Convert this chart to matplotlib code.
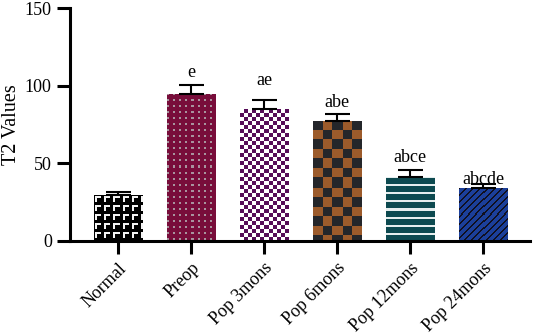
import numpy as np
import matplotlib
matplotlib.use("Agg")
import matplotlib.pyplot as plt

categories = ["Normal", "Preop", "Pop 3mons", "Pop 6mons", "Pop 12mons", "Pop 24mons"]
means = [29.6, 94.7, 84.8, 77.5, 41.4, 34.3]
errors = [2.1, 5.7, 5.8, 4.1, 4.3, 2.4]
letters = ["", "e", "ae", "abe", "abce", "abcde"]
letter_y = [0, 105.6, 100.4, 86.3, 50.9, 36.7]

plt.rcParams['font.family'] = ['Liberation Serif', 'DejaVu Serif']

W, H, DPI = 533, 336, 100
fig = plt.figure(figsize=(W / DPI, H / DPI), dpi=DPI)
ax = fig.add_axes([0.131, 0.283, 0.863, 0.693])

x = np.arange(len(categories))
bw = 0.66
bars = ax.bar(x, means, width=bw, color="black", zorder=2, linewidth=0)
ax.errorbar(x, means, yerr=[np.zeros(len(means)), errors], fmt="none",
            ecolor="black", elinewidth=1.5, capsize=9, capthick=1.5, zorder=3)

ax.set_xlim(-0.66, 5.64)
ax.set_ylim(0, 150)
ax.set_yticks([0, 50, 100, 150])
ax.set_xticks(x)
ax.set_xticklabels(categories, rotation=45, ha="right", rotation_mode="anchor",
                   fontsize=13)
ax.set_ylabel("T2 Values", fontsize=14.5, labelpad=3)

for s in ["top", "right"]:
    ax.spines[s].set_visible(False)
for s in ["left", "bottom"]:
    ax.spines[s].set_linewidth(2.2)
ax.tick_params(axis="both", width=2.2, length=9.5, colors="black")
ax.tick_params(axis="y", labelsize=13)
ax.tick_params(axis="x", pad=4)

for xi, lab, ly in zip(x, letters, letter_y):
    if lab:
        ax.text(xi, ly, lab, ha="center", va="baseline", fontsize=13, zorder=4)

def hexrgb(h):
    h = h.lstrip("#")
    return np.array([int(h[i:i + 2], 16) / 255 for i in (0, 2, 4)])

def pattern(idx, hpx, wpx):
    ii, jj = np.mgrid[0:hpx, 0:wpx]
    img = np.zeros((hpx, wpx, 3))
    if idx == 0:
        bg, fg = hexrgb("#000000"), hexrgb("#f4f4f4")
        ci, cj = ii % 9, jj % 9
        m = ((ci == 1) & (cj >= 1) & (cj <= 6)) | ((cj == 1) & (ci >= 1) & (ci <= 6))
        m |= ((ci == 2) & (cj >= 1) & (cj <= 6)) | ((cj == 2) & (ci >= 1) & (ci <= 6))
        img[:] = bg
        img[m] = fg
    elif idx == 1:
        bg, fg = hexrgb("#780d3a"), hexrgb("#a8949e")
        m = ((ii % 6) < 2) & ((jj % 6) < 2)
        img[:] = bg
        img[m] = fg
    elif idx == 2:
        bg, fg = hexrgb("#560c58"), hexrgb("#ffffff")
        m = ((ii // 4 + jj // 4) % 2) == 0
        img[:] = bg
        img[m] = fg
    elif idx == 3:
        bg, fg = hexrgb("#9c5b2b"), hexrgb("#24262a")
        m = ((np.floor(ii / 9.5) + np.floor(jj / 9.5)) % 2) == 0
        img[:] = bg
        img[m] = fg
    elif idx == 4:
        bg, fg = hexrgb("#0d4a50"), hexrgb("#e6eeee")
        m = (ii % 8) < 2
        img[:] = bg
        img[m] = fg
    else:
        bg, fg = hexrgb("#1b3f9a"), hexrgb("#101020")
        m = ((ii + jj) % 7) < 2
        img[:] = bg
        img[m] = fg
    return img

fig.canvas.draw()
for k, b in enumerate(bars):
    x0, y0 = b.get_x(), b.get_y()
    x1, y1 = x0 + b.get_width(), y0 + b.get_height()
    (px0, py0), (px1, py1) = ax.transData.transform([(x0, y0), (x1, y1)])
    wpx = max(int(round(px1 - px0)), 1)
    hpx = max(int(round(py1 - py0)), 1)
    img = pattern(k, hpx, wpx)
    im = ax.imshow(img, extent=(x0, x1, y0, y1), origin="upper",
                   interpolation="nearest", aspect="auto", zorder=2.5)
    im.set_clip_path(b)

ax.set_xlim(-0.66, 5.64)
ax.set_ylim(0, 150)
fig.savefig("out.png", dpi=DPI)
